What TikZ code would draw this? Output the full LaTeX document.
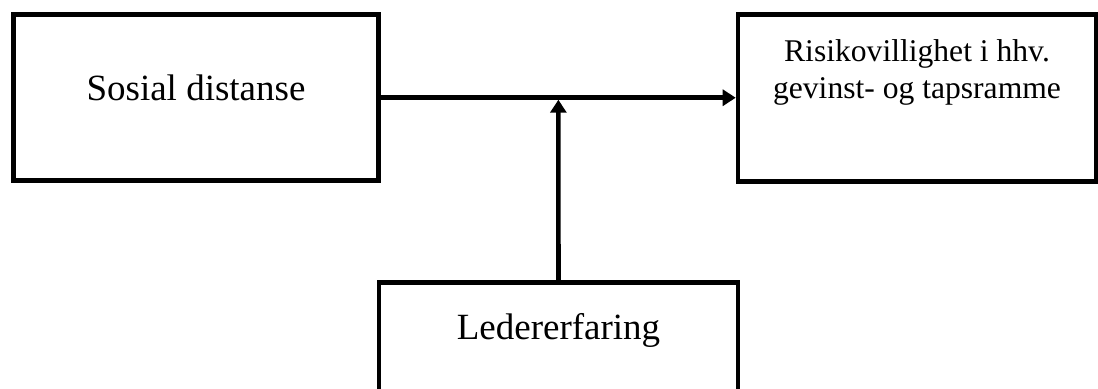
\documentclass[tikz,border=0pt]{standalone}
\usepackage{fontspec}
\setmainfont{Liberation Serif}
\usetikzlibrary{arrows.meta, positioning, calc}
\tikzset{
  varBox/.style = {rectangle, draw=black, line width=2.3pt, fill=white,
    align=center, inner sep=0pt},
  bigText/.style = {font=\fontsize{18.5}{21.3}\selectfont},
  smallText/.style = {font=\fontsize{15.8}{18.4}\selectfont},
  arr/.style = {-{Triangle[length=6.5pt, width=8pt]}, line width=2.3pt, draw=black},
}
\begin{document}
\begin{tikzpicture}[x=0.5pt, y=-0.5pt]

\path[use as bounding box, fill=white] (0,0) rectangle (1098,389);

\node[varBox, bigText, minimum width=182.75pt, minimum height=83pt,
  text height=12pt, text depth=9pt] (sosial) at (196,97.75) {Sosial distanse};
\node[varBox, smallText, minimum width=179pt, minimum height=83.5pt,
  text height=12pt, text depth=11.5pt] (risiko) at (917,97.75)
  {Risikovillighet i hhv.\\gevinst- og tapsramme};
\node[varBox, bigText, minimum width=179.5pt, minimum height=83pt,
  text height=12pt, text depth=37.5pt] (leder) at (558.5,365.5) {Ledererfaring};

\coordinate (join) at ($(sosial.east)!0.5!(risiko.west)$);

\draw[arr] (sosial) -- (risiko);
\draw[arr, shorten >=1pt] (leder) -- (join);

\end{tikzpicture}
\end{document}
